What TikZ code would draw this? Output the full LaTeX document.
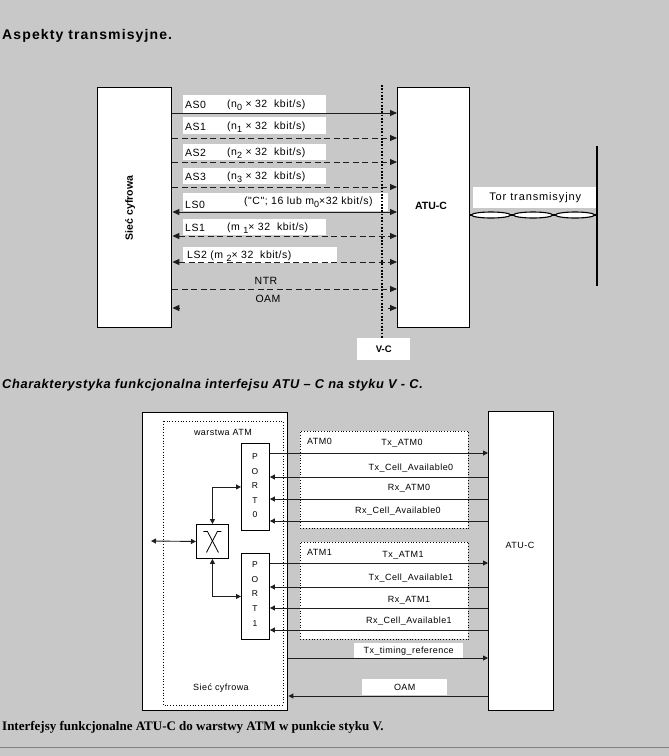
\documentclass[tikz,border=0pt]{standalone}
\usepackage{fontspec}
\setmainfont{Liberation Sans}
\newfontfamily\serifbf{Liberation Serif}
\newfontfamily\wide{Liberation Sans}[LetterSpace=5]
\newfontfamily\wider{Liberation Sans}[LetterSpace=8]
\usetikzlibrary{arrows.meta}
\definecolor{bg}{RGB}{200,200,200}
\definecolor{ln}{RGB}{30,30,30}
\newcommand{\sbx}[1]{\raisebox{-2.6pt}{\fontsize{9}{10}\selectfont #1}}
\begin{document}
\begin{tikzpicture}[x=1pt,y=-1pt,
  bigbox/.style={draw=black, fill=white, line width=1.4pt, inner sep=0pt, anchor=north west},
  thinbox/.style={draw=black, fill=white, line width=0.9pt, inner sep=0pt, anchor=north west},
  dotbox/.style={draw=black, fill=white, line width=0.7pt, dash pattern=on 0.8pt off 2pt, inner sep=0pt, anchor=north west},
  wlab/.style={fill=white, inner sep=0pt, anchor=north west},
  txt/.style={inner sep=0pt, font=\wide\fontsize{10.5}{12}\selectfont},
  stxt/.style={inner sep=0pt, font=\wide\fontsize{9}{10}\selectfont},
  tip/.tip={Triangle[length=7pt,width=6pt]},
  stip/.tip={Triangle[length=5pt,width=5pt]},
  sl/.style={draw=ln, line width=1pt},
  dl/.style={draw=ln, line width=1pt, dash pattern=on 6pt off 3.5pt},
  bl/.style={draw=ln, line width=0.9pt},
]
\fill[bg] (0,0) rectangle (669,756);
\useasboundingbox (0,0) rectangle (669,756);

% ---------- titles
\node[inner sep=0pt, anchor=west, font=\wider\bfseries\fontsize{14}{16}\selectfont] (title) at (2,36) {Aspekty transmisyjne.};

% ---------- top diagram
\node[bigbox, minimum width=74pt, minimum height=240pt] (sc) at (97,87) {};
\node[rotate=90, inner sep=0pt, font=\bfseries\fontsize{10.5}{12}\selectfont] (sclbl) at (130,208) {Sieć cyfrowa};
\node[bigbox, minimum width=72pt, minimum height=240pt] (atu) at (397,87) {};
\node[inner sep=0pt, font=\bfseries\fontsize{10.5}{12}\selectfont] (atulbl) at (431,206) {ATU-C};

% white label boxes
\node[wlab, minimum width=143pt, minimum height=18pt] (w0) at (183,95) {};
\node[wlab, minimum width=143pt, minimum height=17pt] (w1) at (183,117) {};
\node[wlab, minimum width=143pt, minimum height=16pt] (w2) at (183,144) {};
\node[wlab, minimum width=143pt, minimum height=16pt] (w3) at (183,168) {};
\node[wlab, minimum width=205pt, minimum height=18pt] (w4) at (183,193) {};
\node[wlab, minimum width=143pt, minimum height=16pt] (w5) at (183,219) {};
\node[wlab, minimum width=154pt, minimum height=16pt] (w6) at (183,247) {};

% label texts
\node[txt, anchor=west] (t0a) at (185,105) {AS0};
\node[txt, anchor=west] (t0b) at (227,105) {(n\sbx{0} × 32\ \ kbit/s)};
\node[txt, anchor=west] (t1a) at (185,127) {AS1};
\node[txt, anchor=west] (t1b) at (227,127) {(n\sbx{1} × 32\ \ kbit/s)};
\node[txt, anchor=west] (t2a) at (185,153) {AS2};
\node[txt, anchor=west] (t2b) at (227,153) {(n\sbx{2} × 32\ \ kbit/s)};
\node[txt, anchor=west] (t3a) at (185,177) {AS3};
\node[txt, anchor=west] (t3b) at (227,177) {(n\sbx{3} × 32\ \ kbit/s)};
\node[txt, anchor=west] (t4a) at (185,205) {LS0};
\node[txt, anchor=west] (t4b) at (244,202) {("C"; 16 lub m\sbx{0}×32 kbit/s)};
\node[txt, anchor=west] (t5a) at (185,228) {LS1};
\node[txt, anchor=west] (t5b) at (227,228) {(m \sbx{1}× 32\ \ kbit/s)};
\node[txt, anchor=west] (t6) at (187,256) {LS2 (m \sbx{2}× 32\ \ kbit/s)};
\node[txt] (tntr) at (266,281) {NTR};
\node[txt] (toam) at (268,299) {OAM};

% connectors
\draw[sl, -tip] (sc.east |- 0,113) -- (atu.west |- 0,113);
\draw[dl, -tip] (sc.east |- 0,138) -- (atu.west |- 0,138);
\draw[dl, -tip] (sc.east |- 0,162) -- (atu.west |- 0,162);
\draw[dl, -tip] (sc.east |- 0,187) -- (atu.west |- 0,187);
\draw[sl, tip-tip] (sc.east |- 0,212) -- (atu.west |- 0,212);
\draw[dl, tip-tip] (sc.east |- 0,236) -- (atu.west |- 0,236);
\draw[dl, tip-tip] (sc.east |- 0,262) -- (atu.west |- 0,262);
\draw[dl, -tip] (sc.east |- 0,289) -- (atu.west |- 0,289);
\coordinate (oamL) at (180,308);
\coordinate (oamR) at (388,308);
\draw[sl, -tip] (oamL) -- (sc.east |- oamL);
\draw[sl, -tip] (oamR) -- (atu.west |- oamR);

% V-C dotted line
\coordinate (vtop) at (382,85);
\coordinate (vbot) at (382,340);
\draw[line width=1.7pt, dash pattern=on 1.7pt off 1.6pt] (vtop) -- (vbot);
\node[wlab, minimum width=53pt, minimum height=22pt, font=\bfseries\fontsize{9.5}{10}\selectfont] (vc) at (357,338) {V-C};

% transmission line
\node[wlab, minimum width=124pt, minimum height=21pt, font=\wider\fontsize{11}{12}\selectfont] (tor) at (473,187) {Tor transmisyjny};
\coordinate (lt) at (597,146);
\coordinate (lb) at (597,286);
\draw[line width=1.6pt] (lt) -- (lb);
\coordinate (tpend) at (597,215);
\draw[line width=1.5pt] (atu.east |- tpend) -- (tpend);
\foreach \cx in {491,533,575}{
  \draw[line width=1.1pt, fill=white] (\cx,215) ellipse (19.5pt and 3pt);
  \draw[white, line width=0.6pt] (\cx-14,215) -- (\cx+14,215);
}

% ---------- caption 2
\node[inner sep=0pt, anchor=west, font=\wide\bfseries\itshape\fontsize{12.8}{14}\selectfont] (cap2) at (2,385) {Charakterystyka funkcjonalna interfejsu ATU – C na styku V - C.};

% ---------- bottom diagram
\node[bigbox, minimum width=145pt, minimum height=298pt] (sc2) at (142,412) {};
\draw[line width=0.7pt, dash pattern=on 0.8pt off 2pt] (163,421) rectangle (283,705);
\node[stxt] (warst) at (223,432) {warstwa ATM};
\node[stxt] (sc2lbl) at (221,688) {Sieć cyfrowa};

\node[thinbox, minimum width=28pt, minimum height=87pt] (p0) at (241,443) {};
\node[stxt, align=center, font=\fontsize{8.5}{14.5}\selectfont] (p0t) at (255,486) {P\\O\\R\\T\\0};
\node[thinbox, minimum width=28pt, minimum height=86pt] (p1) at (241,553) {};
\node[stxt, align=center, font=\fontsize{8.5}{14.7}\selectfont] (p1t) at (255,594) {P\\O\\R\\T\\1};

\node[thinbox, minimum width=32pt, minimum height=34pt] (xb) at (196,524) {};
\draw[line width=0.8pt] ([shift={(-9,-10)}]xb.center) -- ([shift={(-5,-10)}]xb.center) -- ([shift={(6,11)}]xb.center);
\draw[line width=0.8pt] ([shift={(9,-10)}]xb.center) -- ([shift={(5,-10)}]xb.center) -- ([shift={(-6,11)}]xb.center);

\draw[bl, stip-stip] (xb.north) |- (p0.west);
\draw[bl, stip-stip] (xb.south) |- (p1.west);
\coordinate (ext) at (151,541);
\draw[bl, stip-stip] (ext) -- (xb.west);

\node[dotbox, minimum width=168pt, minimum height=97pt] (atm0) at (300,431) {};
\node[dotbox, minimum width=168pt, minimum height=97pt] (atm1) at (300,542) {};
\node[stxt, anchor=west] (atm0l) at (307,441) {ATM0};
\node[stxt, anchor=west] (atm1l) at (307,552) {ATM1};

\node[bigbox, minimum width=65pt, minimum height=299pt] (atu2) at (488,411) {};
\node[stxt] (atu2l) at (520,545) {ATU-C};

\node[stxt] (l1) at (402,443) {Tx\_ATM0};
\node[stxt] (l2) at (411,468) {Tx\_Cell\_Available0};
\node[stxt] (l3) at (409,488) {Rx\_ATM0};
\node[stxt] (l4) at (398,511) {Rx\_Cell\_Available0};
\node[stxt] (l5) at (403,555) {Tx\_ATM1};
\node[stxt] (l6) at (411,578) {Tx\_Cell\_Available1};
\node[stxt] (l7) at (409,600) {Rx\_ATM1};
\node[stxt] (l8) at (409,621) {Rx\_Cell\_Available1};

\draw[bl, -stip] (p0.east |- 0,453) -- (atu2.west |- 0,453);
\draw[bl, -stip] (atu2.west |- 0,477) -- (p0.east |- 0,477);
\draw[bl, -stip] (atu2.west |- 0,499) -- (p0.east |- 0,499);
\draw[bl, -stip] (atu2.west |- 0,521) -- (p0.east |- 0,521);
\draw[bl, -stip] (p1.east |- 0,563) -- (atu2.west |- 0,563);
\draw[bl, -stip] (atu2.west |- 0,587) -- (p1.east |- 0,587);
\draw[bl, -stip] (atu2.west |- 0,608) -- (p1.east |- 0,608);
\draw[bl, -stip] (atu2.west |- 0,630) -- (p1.east |- 0,630);

\node[wlab, minimum width=109pt, minimum height=16pt, font=\wide\fontsize{9}{10}\selectfont] (txr) at (354,643) {Tx\_timing\_reference};
\draw[bl, -stip] (sc2.east |- 0,658) -- (atu2.west |- 0,658);
\node[wlab, minimum width=85pt, minimum height=16pt, font=\wide\fontsize{9}{10}\selectfont] (oam2) at (362,679) {OAM};
\draw[bl, -stip] (atu2.west |- 0,696) -- (sc2.east |- 0,696);

% ---------- caption 3
\node[inner sep=0pt, anchor=west, font=\serifbf\bfseries\fontsize{13}{15}\selectfont] (cap3) at (2,727) {Interfejsy funkcjonalne ATU-C do warstwy ATM w punkcie styku V.};
\coordinate (bl0) at (0,747);
\coordinate (bl1) at (669,747);
\draw[line width=1pt, color=black!50] (bl0) -- (bl1);
\end{tikzpicture}
\end{document}
